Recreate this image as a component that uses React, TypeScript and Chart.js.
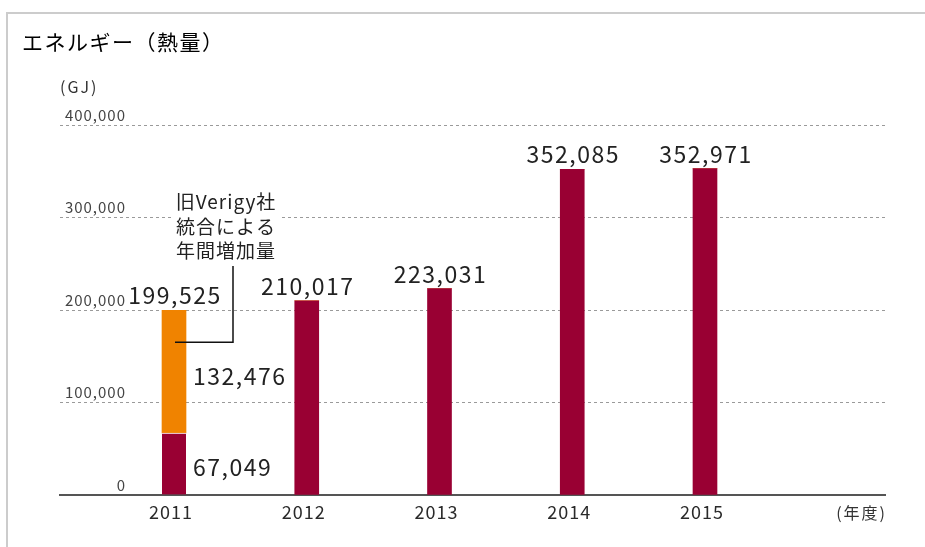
import React, { useEffect, useRef } from "react";
import { Chart, registerables } from "chart.js";

Chart.register(...registerables);

const categories = ["2011", "2012", "2013", "2014", "2015"];
const baseValues = [67049, 210017, 223031, 352085, 352971];
const verigyValues = [132476, 0, 0, 0, 0];
const totalLabels = ["199,525", "210,017", "223,031", "352,085", "352,971"];
const baseLabel2011 = "67,049";
const verigyLabel2011 = "132,476";
const yTickValues = [0, 100000, 200000, 300000, 400000];
const yTickLabels = ["0", "100,000", "200,000", "300,000", "400,000"];
const annotationLines = ["旧Verigy社", "統合による", "年間増加量"];
const titleText = "エネルギー（熱量）";
const yUnit = "(GJ)";
const xUnit = "(年度)";

const RED = "#990033";
const ORANGE = "#F08300";
const FONT = '"Noto Sans CJK JP", "Noto Sans", sans-serif';

const overlayPlugin = {
  id: "overlay",
  beforeDraw(chart: any) {
    const ctx = chart.ctx;
    ctx.fillStyle = "#fff";
    ctx.fillRect(0, 0, chart.width, chart.height);
    (ctx as any).letterSpacing = "1px";
  },
  afterDraw(chart: any) {
    const ctx = chart.ctx as CanvasRenderingContext2D & { letterSpacing: string };
    const xs = chart.scales.x;
    const ys = chart.scales.y;
    const area = chart.chartArea;
    ctx.save();

    // frame
    ctx.strokeStyle = "#cccccc";
    ctx.lineWidth = 2;
    ctx.beginPath();
    ctx.moveTo(7, chart.height);
    ctx.lineTo(7, 13);
    ctx.lineTo(chart.width, 13);
    ctx.stroke();

    // title
    ctx.fillStyle = "#000";
    ctx.textBaseline = "middle";
    ctx.textAlign = "left";
    ctx.letterSpacing = "1.5px";
    ctx.font = `21px ${FONT}`;
    ctx.fillText(titleText, 22, 42);

    // y unit
    ctx.fillStyle = "#333";
    ctx.font = `16px ${FONT}`;
    ctx.letterSpacing = "2px";
    ctx.fillText(yUnit, area.left, 87);

    // y tick labels
    ctx.fillStyle = "#444";
    ctx.textAlign = "right";
    ctx.font = `15px ${FONT}`;
    ctx.letterSpacing = "1px";
    yTickValues.forEach((v, i) => {
      ctx.fillText(yTickLabels[i], area.left + 66, ys.getPixelForValue(v) - 10);
    });

    // total labels above bars
    ctx.fillStyle = "#222";
    ctx.textAlign = "center";
    ctx.textBaseline = "alphabetic";
    ctx.font = `23px ${FONT}`;
    ctx.letterSpacing = "1.5px";
    categories.forEach((_, i) => {
      const total = baseValues[i] + verigyValues[i];
      ctx.fillText(totalLabels[i], xs.getPixelForValue(i) + 1, ys.getPixelForValue(total) - 6);
    });

    // segment labels for 2011
    const meta0 = chart.getDatasetMeta(0);
    const bar0 = meta0.data[0];
    const barRight = bar0.x + bar0.width / 2;
    ctx.textAlign = "left";
    ctx.textBaseline = "middle";
    const yOrangeMid = (ys.getPixelForValue(baseValues[0]) + ys.getPixelForValue(baseValues[0] + verigyValues[0])) / 2;
    const yRedMid = (ys.getPixelForValue(0) + ys.getPixelForValue(baseValues[0])) / 2;
    ctx.fillText(verigyLabel2011, barRight + 7, yOrangeMid + 5);
    ctx.fillText(baseLabel2011, barRight + 7, yRedMid + 3);

    // annotation
    const ax = bar0.x + 52;
    ctx.font = `19px ${FONT}`;
    ctx.letterSpacing = "1px";
    ctx.fillStyle = "#fff";
    ctx.fillRect(ax - 54, 188, 108, 76);
    ctx.fillStyle = "#222";
    ctx.textAlign = "center";
    annotationLines.forEach((line, i) => {
      ctx.fillText(line, ax, 202 + i * 24.5);
    });

    // leader line
    const yLeader = ys.getPixelForValue(baseValues[0] + verigyValues[0] * 0.74);
    ctx.strokeStyle = "#111";
    ctx.lineWidth = 1.5;
    ctx.beginPath();
    ctx.moveTo(bar0.x + 59, 266);
    ctx.lineTo(bar0.x + 59, yLeader);
    ctx.lineTo(bar0.x + 1, yLeader);
    ctx.stroke();

    // x unit
    ctx.fillStyle = "#333";
    ctx.textAlign = "right";
    ctx.font = `16px ${FONT}`;
    ctx.letterSpacing = "2px";
    ctx.fillText(xUnit, area.right + 2, 513);

    ctx.restore();
  },
};

export default function App() {
  const canvasRef = useRef<HTMLCanvasElement | null>(null);

  useEffect(() => {
    const canvas = canvasRef.current;
    if (!canvas) return;
    const chart = new Chart(canvas, {
      type: "bar",
      data: {
        datasets: [
          {
            label: "Advantest",
            data: baseValues.map((v, i) => ({ x: i, y: v })),
            backgroundColor: RED,
            borderColor: "#ffffff",
            borderWidth: (c: any) =>
              c.dataIndex === 0 ? { top: 1, left: 0, right: 0, bottom: 0 } : 0,
            borderSkipped: false,
            barThickness: 24,
          },
          {
            label: "Verigy",
            data: verigyValues.map((v, i) => ({ x: i, y: v })),
            backgroundColor: ORANGE,
            borderWidth: 0,
            barThickness: 24,
          },
        ],
      },
      options: {
        responsive: false,
        animation: false,
        devicePixelRatio: 1,
        layout: { padding: { left: 60, right: 40, top: 125, bottom: 0 } },
        plugins: {
          legend: { display: false },
          tooltip: { enabled: false },
          title: { display: false },
        },
        scales: {
          x: {
            type: "linear",
            stacked: true,
            offset: false,
            min: -0.8588,
            max: 5.356,
            afterBuildTicks: (scale: any) => {
              scale.ticks = categories.map((_, i) => ({ value: i }));
            },
            afterFit: (scale: any) => {
              scale.height = 52;
            },
            ticks: {
              callback: (v: any) => categories[v] ?? "",
              color: "#2a2a2a",
              font: { size: 18, family: FONT },
              padding: 6,
              labelOffset: -3,
              maxRotation: 0,
              autoSkip: false,
            },
            grid: { display: false, drawTicks: false, offset: false },
            border: { display: true, color: "#555", width: 2 },
          },
          y: {
            stacked: true,
            min: 0,
            max: 400000,
            afterBuildTicks: (scale: any) => {
              scale.ticks = yTickValues.map((v) => ({ value: v }));
            },
            afterFit: (scale: any) => {
              scale.width = 0;
            },
            ticks: { display: false },
            grid: { color: "#9a9a9a", lineWidth: 1, drawTicks: false },
            border: { display: false, dash: [3, 3] },
          },
        },
      },
      plugins: [overlayPlugin],
    } as any);
    return () => chart.destroy();
  }, []);

  return (
    <div style={{ position: "fixed", left: 0, top: 0, width: 925, height: 547, background: "#fff" }}>
      <canvas ref={canvasRef} width={925} height={547} style={{ display: "block" }} />
    </div>
  );
}
